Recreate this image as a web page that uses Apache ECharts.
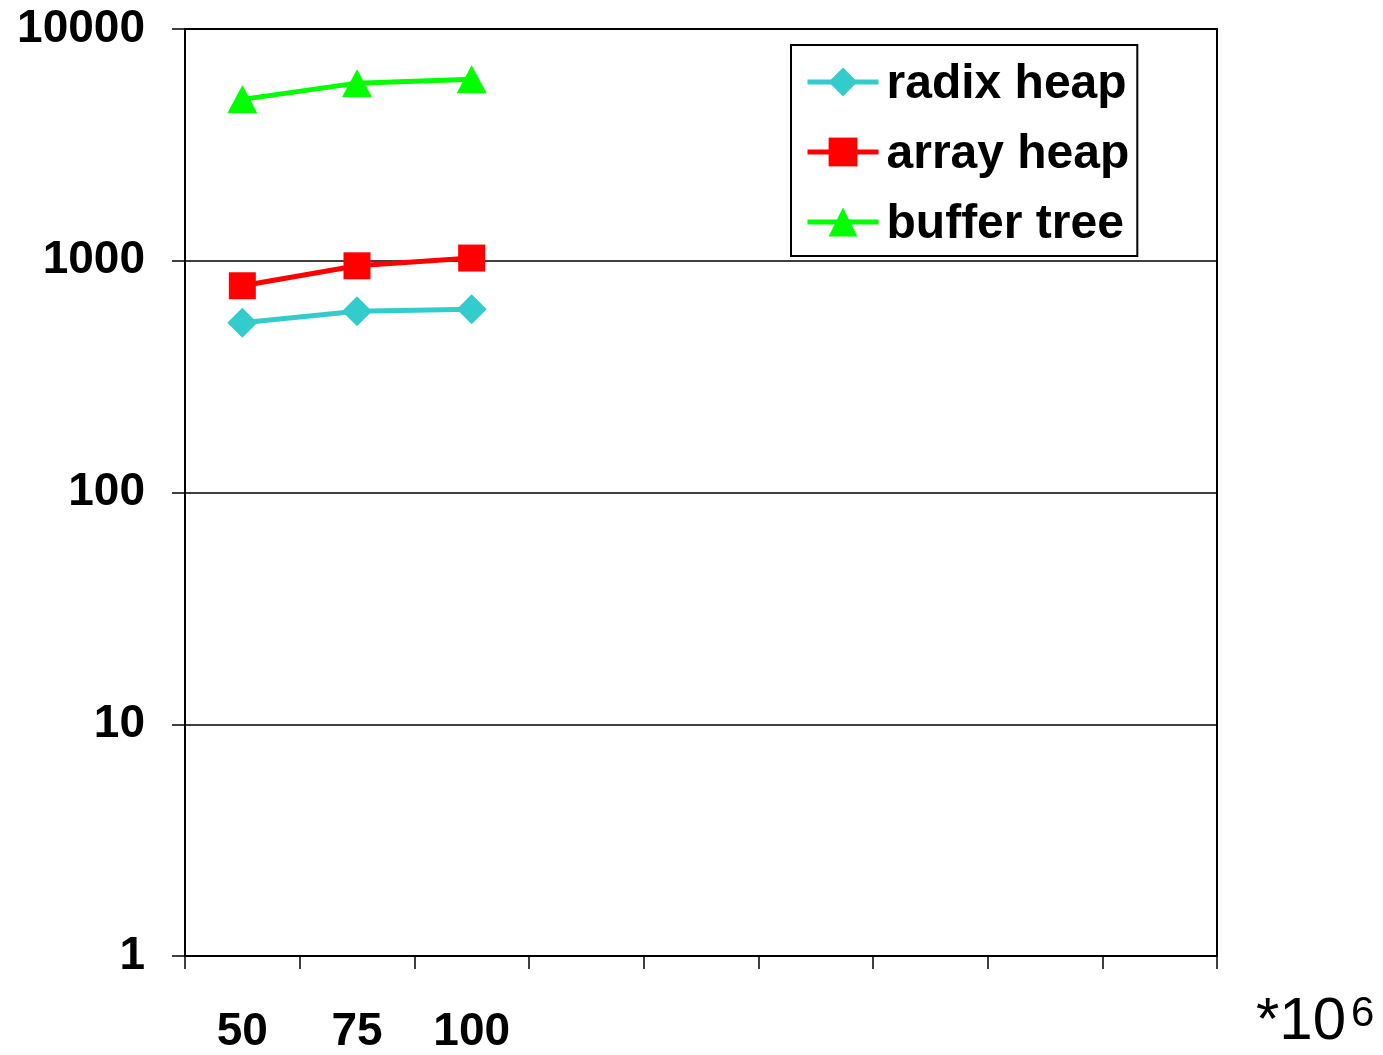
<!DOCTYPE html>
<html>
<head>
<meta charset="utf-8">
<script src="https://cdn.jsdelivr.net/npm/echarts@6/dist/echarts.min.js"></script>
<style>
html,body{margin:0;padding:0;background:#fff;}
#chart{width:1383px;height:1055px;}
</style>
</head>
<body>
<div id="chart"></div>
<script>
var categories = ['50', '75', '100', '', '', '', '', '', ''];
var radixHeap = [540, 606, 618];
var arrayHeap = [780, 951, 1027];
var bufferTree = [4970, 5840, 6070];
var yTickLabels = ['1', '10', '100', '1000', '10000'];

var chart = echarts.init(document.getElementById('chart'), null, {renderer: 'canvas'});
var FONT = '"Liberation Sans", Arial, sans-serif';

chart.setOption({
  animation: false,
  backgroundColor: '#fff',
  grid: {
    left: 185, right: 166, top: 29, bottom: 98,
    show: true, borderColor: '#000', borderWidth: 2, backgroundColor: 'transparent'
  },
  legend: {
    orient: 'vertical',
    left: 791, top: 45,
    padding: [10, 8, 7, 14],
    borderColor: '#000', borderWidth: 2,
    backgroundColor: '#fff',
    itemWidth: 71, itemHeight: 36, itemGap: 16,
    lineStyle: {width: 5},
    formatter: function (name) { return '{t|' + name + '}'; },
    textStyle: {
      fontFamily: FONT, fontWeight: 'bold', fontSize: 48, color: '#000',
      rich: {
        t: {fontFamily: FONT, fontWeight: 'bold', fontSize: 48, color: '#000', lineHeight: 50, padding: [6, 0, 0, 3]}
      }
    },
    data: ['radix heap', 'array heap', 'buffer tree']
  },
  xAxis: {
    type: 'category',
    data: categories,
    boundaryGap: true,
    axisLine: {lineStyle: {color: '#000', width: 2}},
    axisTick: {show: true, interval: 0, length: 13, lineStyle: {color: '#000', width: 1.5}},
    axisLabel: {interval: 0, margin: 53, fontFamily: FONT, fontWeight: 'bold', fontSize: 46, color: '#000'},
    splitLine: {show: false}
  },
  yAxis: {
    type: 'log',
    logBase: 10,
    min: 1, max: 10000,
    axisLine: {show: true, lineStyle: {color: '#000', width: 2}},
    axisTick: {show: true, length: 13, lineStyle: {color: '#000', width: 1.5}},
    axisLabel: {
      margin: 40, fontFamily: FONT, fontWeight: 'bold', fontSize: 46, color: '#000',
      padding: [4, 0, 0, 0],
      formatter: function (v) {
        var i = Math.round(Math.log10(v));
        return yTickLabels[i] !== undefined ? yTickLabels[i] : '';
      }
    },
    splitLine: {show: true, lineStyle: {color: '#000', width: 1.5}}
  },
  series: [
    {
      name: 'radix heap', type: 'line', data: radixHeap,
      symbol: 'diamond', symbolSize: 30,
      lineStyle: {color: '#33CCCC', width: 5},
      itemStyle: {color: '#33CCCC'}
    },
    {
      name: 'array heap', type: 'line', data: arrayHeap,
      symbol: 'rect', symbolSize: 27,
      lineStyle: {color: '#FF0000', width: 5},
      itemStyle: {color: '#FF0000'}
    },
    {
      name: 'buffer tree', type: 'line', data: bufferTree,
      symbol: 'triangle', symbolSize: [30, 28],
      lineStyle: {color: '#00FF00', width: 5},
      itemStyle: {color: '#00FF00'}
    }
  ],
  graphic: [
    {
      type: 'text', left: 1256, top: 992,
      style: {text: '*10', fontFamily: FONT, fontSize: 60, fill: '#000'}
    },
    {
      type: 'text', left: 1351, top: 993,
      style: {text: '6', fontFamily: FONT, fontSize: 42, fill: '#000'}
    }
  ]
});
</script>
</body>
</html>
